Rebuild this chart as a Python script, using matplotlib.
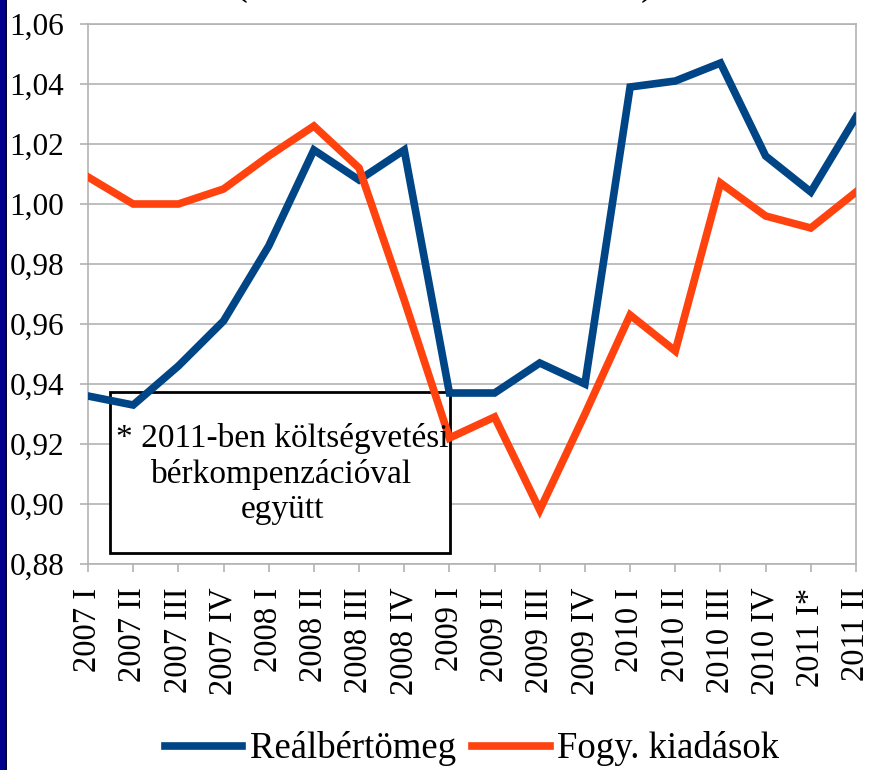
import matplotlib.pyplot as plt
from matplotlib.patches import Rectangle
from matplotlib.ticker import FuncFormatter

plt.rcParams['font.family'] = ['Liberation Serif', 'DejaVu Serif']

# quarters on the x axis
quarters = ["2007 I", "2007 II", "2007 III", "2007 IV",
            "2008 I", "2008 II", "2008 III", "2008 IV",
            "2009 I", "2009 II", "2009 III", "2009 IV",
            "2010 I", "2010 II", "2010 III", "2010 IV",
            "2011 I*", "2011 II"]

# values
realbertomeg = [0.936, 0.933, 0.946, 0.961, 0.986, 1.018, 1.008, 1.018,
                0.937, 0.937, 0.947, 0.940, 1.039, 1.041, 1.047, 1.016,
                1.004, 1.029]
fogy_kiadasok = [1.009, 1.000, 1.000, 1.005, 1.016, 1.026, 1.012, 0.968,
                 0.922, 0.929, 0.898, 0.930, 0.963, 0.951, 1.007, 0.996,
                 0.992, 1.004]

y_ticks = [0.88, 0.90, 0.92, 0.94, 0.96, 0.98, 1.00, 1.02, 1.04, 1.06]

blue = '#004586'
orange = '#ff420e'
grid_gray = '#b3b3b3'

W, H = 869, 770
fig = plt.figure(figsize=(W / 100, H / 100), dpi=100)
ax = fig.add_axes([88 / W, 1 - 564 / H, (856 - 88) / W, (564 - 24) / H])

x = list(range(len(quarters)))
ax.plot(x, realbertomeg, color=blue, lw=5.5, label='Reálbértömeg',
        solid_joinstyle='miter', zorder=4)
ax.plot(x, fogy_kiadasok, color=orange, lw=5.5, label='Fogy. kiadások',
        solid_joinstyle='miter', zorder=4)

ax.set_xlim(0, len(quarters) - 1)
ax.set_ylim(0.88, 1.06)
ax.set_yticks(y_ticks)
ax.yaxis.set_major_formatter(FuncFormatter(lambda v, p: f"{v:.2f}".replace('.', ',')))
ax.set_xticks(x)
ax.set_xticklabels(quarters, rotation=90, va='top', ha='center')

ax.grid(axis='y', color=grid_gray, lw=1.2, zorder=0)
ax.set_axisbelow(True)
for s in ax.spines.values():
    s.set_color(grid_gray)
    s.set_linewidth(1.2)
ax.tick_params(axis='both', colors=grid_gray, length=6, width=1.2, labelcolor='black')
ax.tick_params(axis='y', labelsize=22.5, pad=11)
ax.tick_params(axis='x', labelsize=23.5, pad=11)

# note box
ax.add_patch(Rectangle((110 / W, 1 - 553 / H), (450 - 110) / W, (553 - 392) / H,
                       transform=fig.transFigure, facecolor='white',
                       edgecolor='black', lw=2, zorder=2))
fig.text(282 / W, 1 - 474 / H,
         "* 2011-ben költségvetési\nbérkompenzációval\negyütt",
         ha='center', va='center', fontsize=24, linespacing=1.22, zorder=3)

# cut-off title brackets at the very top
fig.text(240 / W, 1 + 6 / H, "(", fontsize=30, ha='center', va='baseline')
fig.text(648 / W, 1 + 6 / H, ")", fontsize=30, ha='center', va='baseline')

# dark strip on the left edge
fig.patches.append(Rectangle((0, 0), 5 / W, 1, transform=fig.transFigure,
                             facecolor='#00008c', edgecolor='none'))
fig.patches.append(Rectangle((5 / W, 0), 1.5 / W, 1, transform=fig.transFigure,
                             facecolor='#000030', edgecolor='none'))

fig.legend(loc='center', bbox_to_anchor=(472 / W, 1 - 749 / H), ncol=2,
           frameon=False, fontsize=26.5, handlelength=2.1, handletextpad=0.2,
           columnspacing=0.45)

fig.savefig('out.png', dpi=100)
